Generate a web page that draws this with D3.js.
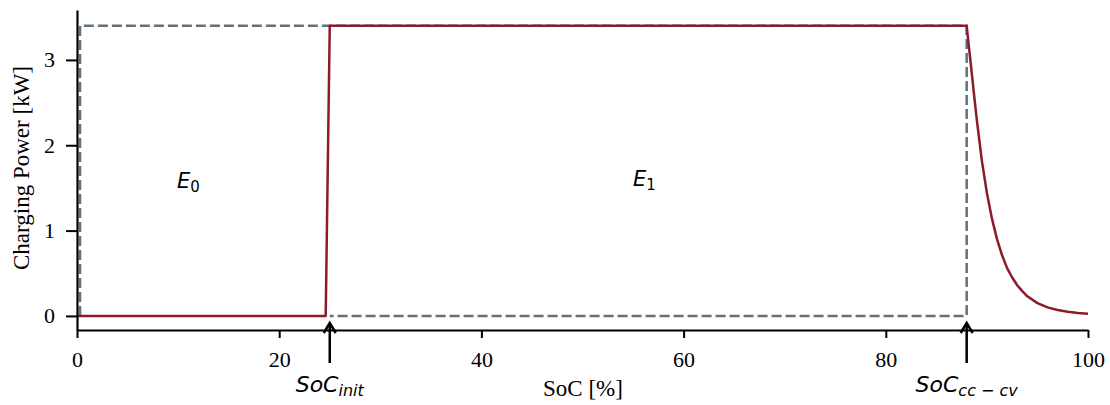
<!DOCTYPE html>
<html><head><meta charset="utf-8">
<script src="https://cdn.jsdelivr.net/npm/d3@7"></script>
<style>
html,body{margin:0;padding:0;background:#fff;}
svg{display:block;}
</style></head>
<body>
<svg id="chart" width="1110" height="405"></svg>
<script>
// Data
const redSoC   = [0, 24.6, 25.0, 88.0, 88.25, 88.5, 88.75, 89.0, 89.5, 90.0, 90.5, 91.0, 91.5, 92.0, 92.5, 93.0, 93.5, 94.0, 95.0, 96.0, 97.0, 98.0, 99.0, 100.0];
const redPower = [0, 0,    3.4,  3.4,  3.12,  2.85, 2.57,  2.3,  1.82, 1.44, 1.14, 0.9,  0.71, 0.56, 0.45, 0.36, 0.29, 0.23, 0.15, 0.1,  0.07, 0.05, 0.035, 0.025];
const boxSoC   = [0.3, 0.3, 88.0, 88.0, 25.0];
const boxPower = [0,   3.4, 3.4,  0,    0];
const xTicks = [0, 20, 40, 60, 80, 100];
const yTicks = [0, 1, 2, 3];
const markers = [{x: 25, main: "SoC", sub: "init"}, {x: 88, main: "SoC", sub: "cc − cv"}];
const regions = [{x: 9.9, y: 1.5, main: "E", sub: "0"}, {x: 55.0, y: 1.52, main: "E", sub: "1"}];

const svg = d3.select("#chart");
const x = d3.scaleLinear().domain([0, 100]).range([77, 1088]);
const y = d3.scaleLinear().domain([-0.165, 3.585]).range([330, 10]);

const serif = "'Liberation Serif', 'Times New Roman', serif";
const mathFont = "'DejaVu Sans', sans-serif";

// Gray dashed box
const line = d3.line().x(d => x(d[0])).y(d => y(d[1]));
svg.append("path")
  .attr("d", line(boxSoC.map((s, i) => [s, boxPower[i]])))
  .attr("fill", "none").attr("stroke", "#63717c").attr("stroke-width", 2.5)
  .attr("stroke-dasharray", "10,4");

// Red curve
svg.append("path")
  .attr("d", line(redSoC.map((s, i) => [s, redPower[i]])))
  .attr("fill", "none").attr("stroke", "#8a1b2a").attr("stroke-width", 2.5)
  .attr("stroke-linejoin", "round");

// Axes
const xAxis = svg.append("g").attr("transform", "translate(0,330)")
  .call(d3.axisBottom(x).tickValues(xTicks).tickFormat(d3.format("d")).tickSize(8).tickPadding(13).tickSizeOuter(0));
const yAxis = svg.append("g").attr("transform", "translate(77,0)")
  .call(d3.axisLeft(y).tickValues(yTicks).tickFormat(d3.format("d")).tickSize(11).tickPadding(11).tickSizeOuter(0));
[xAxis, yAxis].forEach(g => {
  g.select(".domain").attr("stroke", "#000").attr("stroke-width", 2.2);
  g.selectAll(".tick line").attr("stroke", "#000").attr("stroke-width", 2);
  g.selectAll(".tick text").attr("fill", "#000").style("font-family", serif).style("font-size", "22px");
});
xAxis.selectAll(".tick text").attr("dy", null).attr("y", 0)
  .attr("transform", "translate(0,36.5)");

// Axis labels
svg.append("text").attr("x", 583).attr("y", 396).attr("text-anchor", "middle")
  .style("font-family", serif).style("font-size", "23px").text("SoC [%]");
svg.append("text").attr("transform", "translate(29,168) rotate(-90)").attr("text-anchor", "middle")
  .style("font-family", serif).style("font-size", "23px").text("Charging Power [kW]");

// Arrows
const ah = svg.append("g");
markers.forEach(m => {
  const cx = x(m.x);
  ah.append("line").attr("x1", cx).attr("x2", cx).attr("y1", 363).attr("y2", 324)
    .attr("stroke", "#000").attr("stroke-width", 2.5);
  ah.append("path").attr("d", `M${cx-6},${333} L${cx},${323} L${cx+6},${333}`)
    .attr("fill", "none").attr("stroke", "#000").attr("stroke-width", 2.5)
    .attr("stroke-linejoin", "miter");
  const t = ah.append("text").attr("x", cx).attr("y", 392).attr("text-anchor", "middle")
    .style("font-family", mathFont).style("font-style", "italic").style("font-size", "22px");
  t.append("tspan").text(m.main);
  t.append("tspan").attr("dy", 4).style("font-size", "16px").text(m.sub);
});

// Region labels
regions.forEach(r => {
  const t = svg.append("text").attr("x", x(r.x)).attr("y", y(r.y))
    .style("font-family", mathFont).style("font-size", "21px");
  t.append("tspan").style("font-style", "italic").text(r.main);
  t.append("tspan").attr("dy", 4).style("font-size", "15px").text(r.sub);
});
</script>
</body></html>
